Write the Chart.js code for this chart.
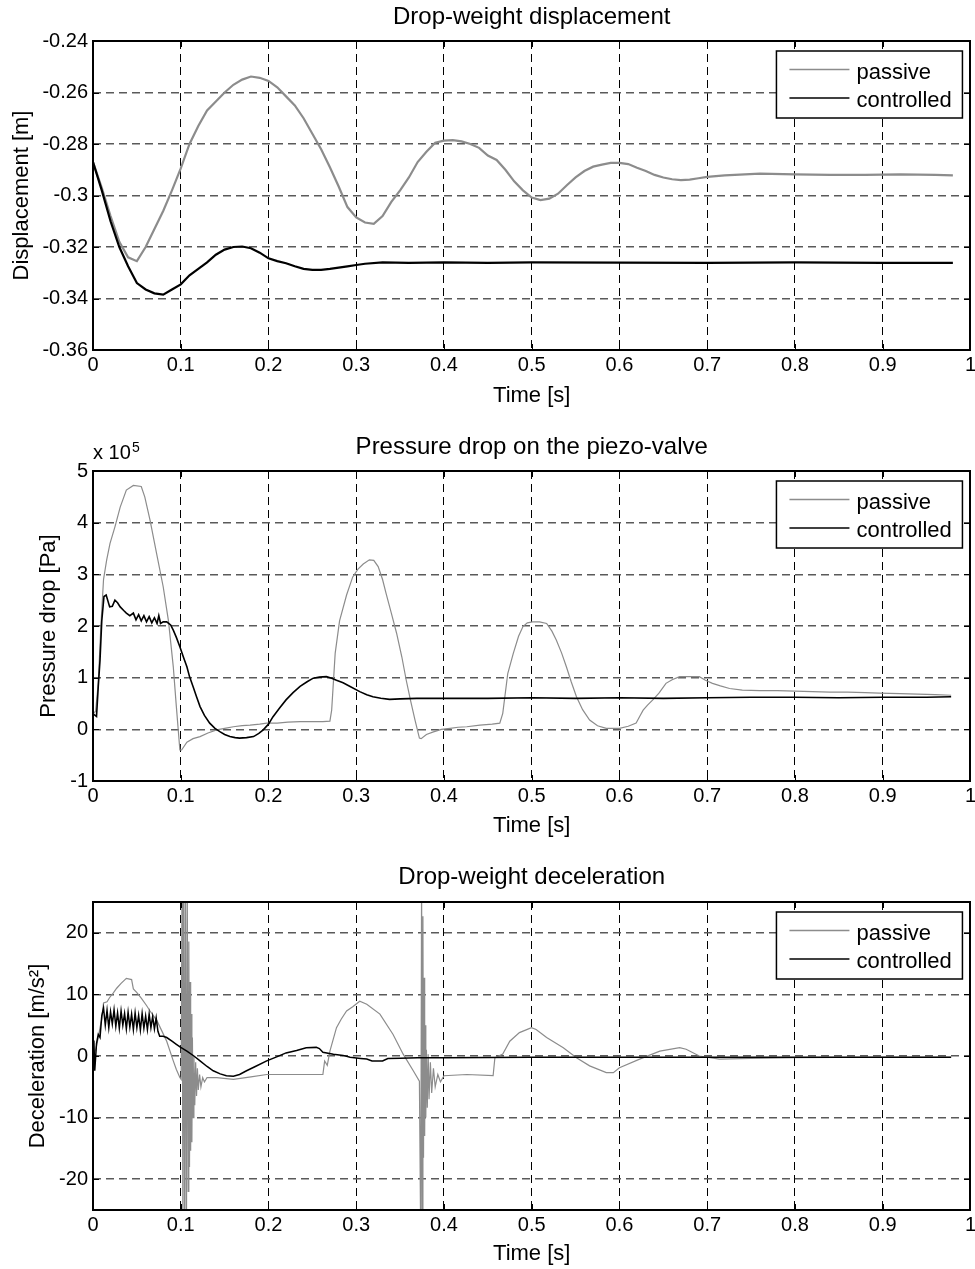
<!DOCTYPE html>
<html>
<head>
<meta charset="utf-8">
<script src="https://cdn.jsdelivr.net/npm/chart.js@4"></script>
<style>
  body { margin: 0; background: #fff; overflow: hidden; }
  canvas { position: absolute; left: 0; }
</style>
</head>
<body>
<canvas id="dispChart" width="980" height="425" style="top:0"></canvas>
<canvas id="pressChart" width="980" height="425" style="top:425px"></canvas>
<canvas id="decChart" width="980" height="419" style="top:850px"></canvas>
<script>
// tick labels
const xTicks = [0, 0.1, 0.2, 0.3, 0.4, 0.5, 0.6, 0.7, 0.8, 0.9, 1];
const dispTicks = [-0.36, -0.34, -0.32, -0.3, -0.28, -0.26, -0.24];
const pressTicks = [-1, 0, 1, 2, 3, 4, 5];
const decTicks = [-20, -10, 0, 10, 20];

// drop-weight displacement [m]
const passiveDispT = [0, 0.01, 0.02, 0.03, 0.04, 0.05, 0.06, 0.07, 0.08, 0.09, 0.10, 0.11, 0.12, 0.13, 0.14, 0.15, 0.16, 0.17, 0.18, 0.19,
  0.20, 0.21, 0.22, 0.23, 0.24, 0.25, 0.26, 0.27, 0.28, 0.29, 0.30, 0.31, 0.32, 0.33, 0.34, 0.35, 0.36, 0.37, 0.38, 0.39,
  0.40, 0.41, 0.42, 0.43, 0.44, 0.45, 0.46, 0.47, 0.48, 0.49, 0.50, 0.51, 0.52, 0.53, 0.54, 0.55, 0.56, 0.57, 0.58, 0.59,
  0.60, 0.61, 0.62, 0.63, 0.64, 0.65, 0.66, 0.67, 0.68, 0.69, 0.70, 0.72, 0.76, 0.80, 0.84, 0.88, 0.92, 0.96, 0.98];
const passiveDisp = [-0.287, -0.297, -0.308, -0.318, -0.324, -0.3255, -0.320, -0.313, -0.306, -0.298, -0.2895, -0.280, -0.273, -0.267, -0.2635, -0.260, -0.257, -0.255, -0.2538, -0.2543,
  -0.2555, -0.258, -0.2615, -0.265, -0.270, -0.276, -0.282, -0.289, -0.2965, -0.3045, -0.3085, -0.3105, -0.311, -0.308, -0.3025, -0.298, -0.293, -0.287, -0.283, -0.2795,
  -0.2787, -0.2785, -0.279, -0.280, -0.2815, -0.2845, -0.2862, -0.290, -0.2945, -0.298, -0.3008, -0.3018, -0.3012, -0.2993, -0.296, -0.293, -0.2905, -0.2888, -0.288, -0.2873,
  -0.2873, -0.2878, -0.2892, -0.2905, -0.292, -0.293, -0.2937, -0.294, -0.2938, -0.2933, -0.2928, -0.2922, -0.2915, -0.2918, -0.292, -0.292, -0.2918, -0.292, -0.2922];
const controlledDispT = [0, 0.01, 0.02, 0.03, 0.04, 0.05, 0.06, 0.07, 0.08, 0.09, 0.10, 0.11, 0.12, 0.13, 0.14, 0.15, 0.16, 0.17, 0.18, 0.19,
  0.20, 0.21, 0.22, 0.23, 0.24, 0.25, 0.26, 0.27, 0.28, 0.29, 0.30, 0.31, 0.33, 0.36, 0.40, 0.45, 0.50, 0.60, 0.70, 0.80, 0.90, 0.98];
const controlledDisp = [-0.287, -0.298, -0.310, -0.320, -0.3275, -0.334, -0.3365, -0.338, -0.3385, -0.3365, -0.3345, -0.331, -0.3285, -0.326, -0.323, -0.321, -0.320, -0.3198, -0.3205, -0.3222,
  -0.3244, -0.3255, -0.3263, -0.3275, -0.3285, -0.3289, -0.3289, -0.3285, -0.328, -0.3275, -0.327, -0.3265, -0.326, -0.3262, -0.326, -0.3262, -0.326, -0.3261, -0.3262, -0.326, -0.3262, -0.3262];

// pressure drop on the piezo-valve [x 1e5 Pa]
const passivePressT = [0, 0.003, 0.006, 0.009, 0.012, 0.0156, 0.0194, 0.025, 0.031, 0.038,
  0.046, 0.055, 0.059, 0.065, 0.0725, 0.08, 0.086, 0.0915, 0.095, 0.099,
  0.101, 0.107, 0.114, 0.122, 0.131, 0.141, 0.150, 0.160, 0.170, 0.179,
  0.190, 0.198, 0.210, 0.222, 0.236, 0.250, 0.262, 0.270, 0.272, 0.276,
  0.281, 0.289, 0.296, 0.302, 0.308, 0.315, 0.320, 0.325, 0.330, 0.334,
  0.340, 0.346, 0.352, 0.357, 0.362, 0.367, 0.372, 0.374, 0.380, 0.388,
  0.397, 0.407, 0.416, 0.426, 0.441, 0.455, 0.4636, 0.467, 0.4727, 0.479,
  0.485, 0.490, 0.495, 0.501, 0.509, 0.517, 0.523, 0.528, 0.534, 0.5395,
  0.545, 0.551, 0.558, 0.566, 0.575, 0.585, 0.600, 0.610, 0.619, 0.623,
  0.627, 0.632, 0.638, 0.645, 0.653, 0.660, 0.6686, 0.680, 0.691, 0.698,
  0.706, 0.715, 0.7255, 0.740, 0.760, 0.780, 0.800, 0.820, 0.840, 0.860,
  0.880, 0.896, 0.920, 0.940, 0.960, 0.978];
const passivePress = [0.3, 0.35, 0.9, 2.0, 2.9, 3.28, 3.6, 3.92, 4.3, 4.63,
  4.72, 4.7, 4.5, 4.05, 3.4, 2.76, 2.1, 1.21, 0.44, -0.4,
  -0.4, -0.25, -0.18, -0.14, -0.07, -0.01, 0.02, 0.05, 0.07, 0.08,
  0.1, 0.12, 0.12, 0.14, 0.15, 0.15, 0.15, 0.16, 0.37, 1.47,
  2.1, 2.6, 2.95, 3.1, 3.2, 3.28, 3.27, 3.15, 2.9, 2.63,
  2.25, 1.86, 1.4, 0.95, 0.55, 0.18, -0.17, -0.18, -0.1, -0.05,
  0.0, 0.02, 0.04, 0.05, 0.08, 0.1, 0.12, 0.31, 1.08, 1.47,
  1.8, 1.99, 2.06, 2.08, 2.08, 2.05, 1.9, 1.73, 1.48, 1.21,
  0.92, 0.63, 0.38, 0.18, 0.07, 0.02, 0.02, 0.06, 0.12, 0.25,
  0.37, 0.47, 0.57, 0.7, 0.89, 0.96, 1.02, 1.02, 1.02, 0.95,
  0.89, 0.84, 0.79, 0.76, 0.75, 0.75, 0.74, 0.73, 0.72, 0.72,
  0.71, 0.70, 0.69, 0.68, 0.67, 0.66];
const controlledPressT = [0, 0.004, 0.006, 0.008, 0.010, 0.0125, 0.015, 0.019, 0.022, 0.025,
  0.028, 0.031, 0.035, 0.038, 0.042, 0.046, 0.049, 0.052, 0.055, 0.058,
  0.061, 0.064, 0.067, 0.070, 0.073, 0.075, 0.077, 0.080, 0.084, 0.0885,
  0.0915, 0.095, 0.099, 0.103, 0.107, 0.110, 0.114, 0.118, 0.122, 0.127,
  0.133, 0.139, 0.145, 0.150, 0.156, 0.162, 0.167, 0.175, 0.183, 0.189,
  0.194, 0.200, 0.205, 0.212, 0.220, 0.228, 0.236, 0.244, 0.251, 0.258,
  0.266, 0.272, 0.2775, 0.285, 0.293, 0.304, 0.312, 0.319, 0.328, 0.338,
  0.350, 0.369, 0.400, 0.450, 0.500, 0.550, 0.600, 0.650, 0.700, 0.750,
  0.800, 0.850, 0.900, 0.950, 0.978];
const controlledPress = [0.3, 0.25, 0.83, 1.34, 2.1, 2.57, 2.6, 2.37, 2.38, 2.5,
  2.45, 2.37, 2.3, 2.25, 2.2, 2.25, 2.12, 2.22, 2.1, 2.2,
  2.08, 2.18, 2.06, 2.16, 2.05, 2.2, 2.05, 2.08, 2.08, 2.02,
  1.92, 1.78, 1.6, 1.4, 1.21, 1.02, 0.83, 0.63, 0.44, 0.27,
  0.12, 0.02, -0.05, -0.1, -0.14, -0.16, -0.17, -0.16, -0.14, -0.08,
  -0.01, 0.1, 0.24, 0.4, 0.57, 0.71, 0.83, 0.92, 0.99, 1.01,
  1.02, 0.99, 0.95, 0.9, 0.83, 0.73, 0.67, 0.63, 0.6, 0.58,
  0.59, 0.6, 0.6, 0.6, 0.61, 0.6, 0.61, 0.6, 0.61, 0.62,
  0.62, 0.61, 0.62, 0.62, 0.63];

// drop-weight deceleration [m/s^2]
const passiveDecT = [0, 0.003, 0.006, 0.008, 0.010, 0.012, 0.016, 0.019, 0.023, 0.027,
  0.032, 0.038, 0.044, 0.046, 0.050, 0.055, 0.061, 0.065, 0.073, 0.078,
  0.084, 0.0915, 0.095, 0.099, 0.1005, 0.1015, 0.1025, 0.1035, 0.1045, 0.1055,
  0.1065, 0.1075, 0.1085, 0.1092, 0.1100, 0.1107, 0.1113, 0.1120, 0.1127, 0.1133,
  0.1140, 0.1150, 0.1160, 0.1170, 0.1180, 0.1190, 0.1200, 0.1215, 0.1230, 0.1250,
  0.1270, 0.1300, 0.1410, 0.1600, 0.1800, 0.1980, 0.2200, 0.2400, 0.2620, 0.2640,
  0.2670, 0.2700, 0.2775, 0.2830, 0.2890, 0.2960, 0.3040, 0.3120, 0.3270, 0.3420,
  0.3535, 0.3650, 0.3720, 0.3735, 0.3745, 0.3752, 0.3760, 0.3767, 0.3773, 0.3780,
  0.3787, 0.3793, 0.3800, 0.3810, 0.3820, 0.3830, 0.3845, 0.3860, 0.3880, 0.3900,
  0.3930, 0.3960, 0.4000, 0.4260, 0.4560, 0.4580, 0.4670, 0.4750, 0.4860, 0.4997,
  0.5050, 0.5170, 0.5360, 0.5510, 0.5660, 0.5850, 0.5930, 0.6000, 0.6230, 0.6460,
  0.6686, 0.6760, 0.6910, 0.7140, 0.7500, 0.8000, 0.9000, 0.9780];
const passiveDec = [0, 1.0, 3.0, 4.6, 6.0, 8.6, 8.8, 9.5, 10.2, 11.0,
  11.8, 12.6, 12.4, 10.9, 10.3, 9.4, 8.2, 7.3, 5.7, 4.2,
  2.4, -0.8, -2.2, -3.5, -3.8, 30, -30, 30, -30, 30,
  -30, 25, -22, 18.6, -18, 12, -15.4, 6.8, -14, 3,
  -10, 0, -8, -1, -6.5, -2, -5.5, -3, -5, -3.5,
  -4.2, -3.5, -3.5, -3.8, -3.4, -3.0, -3.0, -3.0, -3.0, -0.8,
  -1.5, 0.8, 4.6, 6.0, 7.3, 8.0, 8.9, 8.4, 6.8, 3.5,
  0.3, -2.4, -4.1, -30, 30, -30, 22.7, -16.5, 12.7, -13,
  5, -10, 1, -8.4, 0.3, -7, -1, -6, -2, -5,
  -3, -4.2, -3.2, -3.0, -3.2, -0.3, 0.3, 2.4, 3.8, 4.6,
  4.3, 3.0, 1.35, -0.3, -1.6, -2.7, -2.7, -1.9, -0.5, 0.8,
  1.35, 1.1, 0.0, -0.5, -0.4, -0.25, -0.2, -0.2];
const controlledDecT = [0, 0.001, 0.002, 0.004, 0.006, 0.008, 0.010, 0.012,
  0.014, 0.016, 0.018, 0.020, 0.022, 0.024, 0.026, 0.028, 0.030, 0.032,
  0.034, 0.036, 0.038, 0.040, 0.042, 0.044, 0.046, 0.048, 0.050, 0.052,
  0.054, 0.056, 0.058, 0.060, 0.062, 0.064, 0.066, 0.068, 0.070, 0.072, 0.074,
  0.076, 0.080, 0.084, 0.090, 0.095, 0.100, 0.107, 0.115, 0.122, 0.130,
  0.137, 0.145, 0.152, 0.160, 0.167, 0.175, 0.185, 0.198, 0.210, 0.220,
  0.232, 0.243, 0.2545, 0.258, 0.262, 0.274, 0.285, 0.293, 0.305, 0.312,
  0.318, 0.330, 0.336, 0.350, 0.370, 0.400, 0.450, 0.500, 0.600, 0.700,
  0.800, 0.900, 0.978];
const controlledDec = [0, 2.5, -2.4, 2.0, 3.5, 3.0, 6.5, 7.8,
  5.0, 7.4, 4.6, 7.2, 5.2, 7.5, 4.8, 7.0, 4.5, 7.3,
  5.0, 6.9, 4.4, 7.1, 4.7, 6.8, 4.3, 7.0, 4.6, 6.6,
  4.2, 6.9, 4.5, 6.5, 4.3, 6.8, 4.6, 6.4, 4.4, 6.2, 4.0,
  3.2, 3.2, 3.0, 2.4, 1.9, 1.4, 0.8, 0.0, -0.8, -1.7,
  -2.4, -2.9, -3.2, -3.3, -3.0, -2.4, -1.7, -0.8, -0.1, 0.5,
  0.9, 1.35, 1.4, 1.2, 0.6, 0.3, 0.1, -0.2, -0.4, -0.5,
  -0.8, -0.8, -0.4, -0.35, -0.3, -0.3, -0.25, -0.2, -0.2, -0.2,
  -0.2, -0.2, -0.2];

const FONT = "'Liberation Sans', Arial, Helvetica, sans-serif";
const GRAY = '#8c8c8c';
Chart.defaults.font.family = FONT;
Chart.defaults.color = '#000';

const pts = (ts, vs) => ts.map((t, i) => ({ x: t, y: vs[i] }));

// box round the plot + small inward ticks, like the matlab axes
const frame = {
  id: 'frame',
  afterDraw(chart) {
    const { ctx, chartArea: a, scales: { x, y } } = chart;
    const L = Math.round(a.left), R = Math.round(a.right), T = Math.round(a.top), B = Math.round(a.bottom);
    ctx.save();
    ctx.strokeStyle = '#000';
    ctx.lineWidth = 1;
    ctx.beginPath();
    x.ticks.forEach(t => {
      const px = Math.round(x.getPixelForValue(t.value)) + 0.5;
      ctx.moveTo(px, B); ctx.lineTo(px, B - 6);
      ctx.moveTo(px, T); ctx.lineTo(px, T + 6);
    });
    y.ticks.forEach(t => {
      const py = Math.round(y.getPixelForValue(t.value)) + 0.5;
      ctx.moveTo(L, py); ctx.lineTo(L + 6, py);
      ctx.moveTo(R, py); ctx.lineTo(R - 6, py);
    });
    ctx.stroke();
    ctx.lineWidth = 2;
    ctx.strokeRect(L, T, R - L, B - T);
    ctx.restore();
  }
};

// legend box in the upper right corner of the axes
const boxLegend = {
  id: 'boxLegend',
  afterDraw(chart) {
    const { ctx, chartArea: a } = chart;
    const left = a.right - 194, top = a.top + 10;
    ctx.save();
    ctx.fillStyle = '#fff';
    ctx.fillRect(left, top, 186, 67);
    ctx.strokeStyle = '#000';
    ctx.lineWidth = 1.5;
    ctx.strokeRect(left, top, 186, 67);
    ctx.font = '22px ' + FONT;
    ctx.textBaseline = 'alphabetic';
    chart.data.datasets.forEach((ds, i) => {
      const ly = top + 18.5 + i * 28.5;
      ctx.strokeStyle = ds.borderColor;
      ctx.lineWidth = 1.3;
      ctx.beginPath();
      ctx.moveTo(left + 13, ly); ctx.lineTo(left + 73, ly);
      ctx.stroke();
      ctx.fillStyle = '#000';
      ctx.fillText(ds.label, left + 80, ly + 9);
    });
    ctx.restore();
  }
};

// "x 10^5" multiplier above the pressure axis
const expLabel = {
  id: 'expLabel',
  afterDraw(chart) {
    const { ctx, chartArea: a } = chart;
    ctx.save();
    ctx.fillStyle = '#000';
    ctx.textBaseline = 'alphabetic';
    ctx.font = '20px ' + FONT;
    ctx.fillText('x 10', a.left, a.top - 12);
    ctx.font = '14px ' + FONT;
    ctx.fillText('5', a.left + 39, a.top - 19);
    ctx.restore();
  }
};

function makeChart(id, c) {
  return new Chart(document.getElementById(id), {
    type: 'line',
    data: {
      datasets: [
        { label: 'passive', data: pts(c.tp, c.vp), borderColor: GRAY, borderWidth: c.wp, order: 1 },
        { label: 'controlled', data: pts(c.tc, c.vc), borderColor: '#000', borderWidth: c.wc, order: 0 }
      ]
    },
    options: {
      responsive: false,
      animation: false,
      devicePixelRatio: 1,
      layout: { padding: { left: 0, right: 9, top: 0, bottom: 0 } },
      elements: { point: { radius: 0 }, line: { tension: 0, fill: false } },
      plugins: {
        legend: { display: false },
        tooltip: { enabled: false },
        title: {
          display: true, text: c.title, fullSize: false, color: '#000',
          font: { size: 24, weight: 'normal', lineHeight: 1.15 },
          padding: { top: c.tTop, bottom: c.tBottom }
        }
      },
      scales: {
        x: {
          type: 'linear', min: 0, max: 1,
          afterBuildTicks: s => { s.ticks = xTicks.map(v => ({ value: v })); },
          afterFit: s => { s.height = c.xH; },
          ticks: { font: { size: 20, lineHeight: 1.14 }, color: '#000', padding: 4, maxRotation: 0, autoSkip: false,
            callback: v => String(+v.toFixed(1)) },
          grid: { color: '#000', lineWidth: 1, drawTicks: false },
          border: { display: false, dash: [8, 5] },
          title: { display: true, text: 'Time [s]', color: '#000', font: { size: 22 },
            padding: { top: 0, bottom: c.xPad } }
        },
        y: {
          type: 'linear', min: c.yMin, max: c.yMax,
          afterBuildTicks: s => { s.ticks = c.yTicks.map(v => ({ value: v })); },
          afterFit: s => { s.width = 93; },
          ticks: { font: { size: 20 }, color: '#000', padding: 5, callback: c.yFmt },
          grid: { color: '#5a5a5a', lineWidth: 1.5, drawTicks: false },
          border: { display: false, dash: [8, 5] },
          title: { display: true, text: c.yTitle, color: '#000', font: { size: 22 },
            padding: { top: c.yPad, bottom: 0 } }
        }
      }
    },
    plugins: [frame, boxLegend].concat(c.extra || [])
  });
}

makeChart('dispChart', {
  title: 'Drop-weight displacement', tTop: 3.7, tBottom: 9.7, xH: 75, xPad: 15.8,
  yTitle: 'Displacement [m]', yPad: 8.8, yMin: -0.36, yMax: -0.24, yTicks: dispTicks,
  yFmt: v => String(+v.toFixed(2)),
  tp: passiveDispT, vp: passiveDisp, wp: 2.2, tc: controlledDispT, vc: controlledDisp, wc: 2.2
});

makeChart('pressChart', {
  title: 'Pressure drop on the piezo-valve', tTop: 8.2, tBottom: 10.2, xH: 69, xPad: 10.8,
  yTitle: 'Pressure drop [Pa]', yPad: 35.8, yMin: -1, yMax: 5, yTicks: pressTicks,
  yFmt: v => String(v),
  tp: passivePressT, vp: passivePress, wp: 1.2, tc: controlledPressT, vc: controlledPress, wc: 1.6,
  extra: [expLabel]
});

makeChart('decChart', {
  title: 'Drop-weight deceleration', tTop: 13.2, tBottom: 11.2, xH: 59, xPad: 1.8,
  yTitle: 'Deceleration [m/s²]', yPad: 24.3, yMin: -25, yMax: 25, yTicks: decTicks,
  yFmt: v => String(v),
  tp: passiveDecT, vp: passiveDec, wp: 1.2, tc: controlledDecT, vc: controlledDec, wc: 1.5
});
</script>
</body>
</html>
